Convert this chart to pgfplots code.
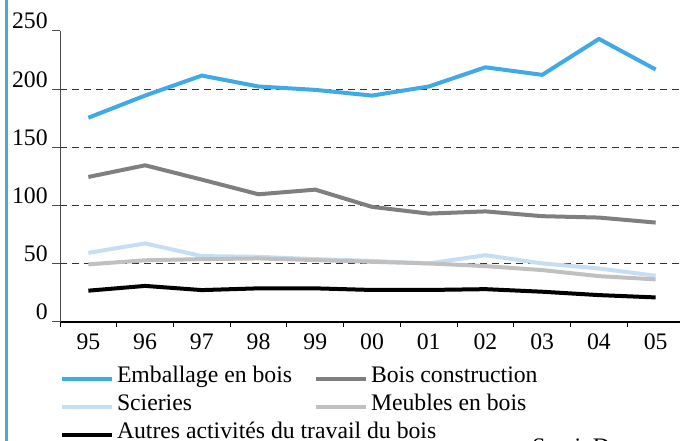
\documentclass[border=0pt]{standalone}
\usepackage{fontspec}
\setmainfont{Liberation Serif}
\usepackage{pgfplots}
\pgfplotsset{compat=1.18}
\definecolor{cEmb}{HTML}{40AAE6}
\definecolor{cBois}{HTML}{7F7F7F}
\definecolor{cSci}{HTML}{C6DEF4}
\definecolor{cMeu}{HTML}{C0C0C0}
\definecolor{cFrame}{HTML}{4AA8E0}
\newcommand{\colA}[1]{\hspace{1.5bp}\makebox[98.5bp][l]{#1}}
\begin{document}
\begin{tikzpicture}[x=0.5bp,y=0.5bp,font=\fontsize{11.85bp}{14bp}\selectfont]
\useasboundingbox (0,0) rectangle (680,441);
\clip (0,0) rectangle (680,441);
\fill[cFrame] (4.5,0) rectangle (7.5,441);
\node[anchor=base west,inner sep=0pt] at (15,444) {en \%};
\begin{axis}[
    at={(30bp,59.5bp)}, anchor=south west,
    width=312bp, height=145.5bp, scale only axis,
    xmin=-0.5, xmax=10.5,
    ymin=0, ymax=250,
    axis x line=bottom, axis y line=left,
    x axis line style={-, black, line width=0.6bp},
    y axis line style={-, black!70, line width=0.5bp},
    xtick={0,...,10},
    xticklabels={95,96,97,98,99,00,01,02,03,04,05},
    major x tick style={draw=none},
    minor xtick={-0.5,0.5,...,10.5},
    minor x tick style={black, line width=0.5bp},
    minor tick length=2.5bp,
    tick align=outside,
    ytick={0,250},
    extra y ticks={50,100,150,200},
    extra y tick style={grid=major},
    major grid style={black!80, line width=0.5bp, dash pattern=on 3.5bp off 2.5bp},
    y tick style={black!70, line width=0.5bp},
    major tick length=4bp,
    /pgf/number format/assume math mode=true,
    xticklabel style={anchor=base, yshift=-10bp, inner sep=0pt},
    yticklabel style={anchor=base east, inner sep=0pt, xshift=-2bp, yshift=1bp},
    legend style={at={(0,-0.1478)}, anchor=north west, draw=none, fill=none,
        inner sep=0pt, outer sep=0pt, legend columns=2,
        column sep=0pt, row sep=3bp,
        nodes={inner sep=0pt, text height=8.5bp, text depth=2.5bp}},
    legend cell align=left,
    legend image code/.code={\draw[#1] (0bp,-1.5bp) -- (25bp,-1.5bp);},
    every axis plot/.append style={line width=2bp, line join=round},
]
\addplot[cEmb] coordinates {(0,175.5) (1,194.5) (2,211.7) (3,202.3) (4,199.4) (5,194.5) (6,202.3) (7,218.8) (8,212.3) (9,243.2) (10,216.9)};
\addlegendentry{\colA{Emballage en bois}}
\addplot[cBois] coordinates {(0,124.6) (1,134.6) (2,122.3) (3,109.7) (4,113.7) (5,98.9) (6,93.1) (7,95.0) (8,90.9) (9,89.7) (10,85.4)};
\addlegendentry{\hspace{1.5bp}Bois construction}
\addplot[cSci] coordinates {(0,59.4) (1,67.5) (2,56.6) (3,56.0) (4,54.0) (5,52.5) (6,50.3) (7,57.4) (8,50.3) (9,46.0) (10,39.7)};
\addlegendentry{\colA{Scieries}}
\addplot[cMeu] coordinates {(0,49.5) (1,53.0) (2,54.0) (3,54.6) (4,53.2) (5,51.7) (6,50.3) (7,48.0) (8,44.6) (9,39.4) (10,36.6)};
\addlegendentry{\hspace{1.5bp}Meubles en bois}
\addplot[black] coordinates {(0,26.9) (1,31.0) (2,27.4) (3,28.9) (4,28.9) (5,27.5) (6,27.5) (7,28.2) (8,26.0) (9,23.1) (10,21.1)};
\addlegendentry{\colA{Autres activités du travail du bois}}
\end{axis}
\node[anchor=north west,inner sep=0pt] at (532,3) {Sessi, Douanes};
\end{tikzpicture}
\end{document}
